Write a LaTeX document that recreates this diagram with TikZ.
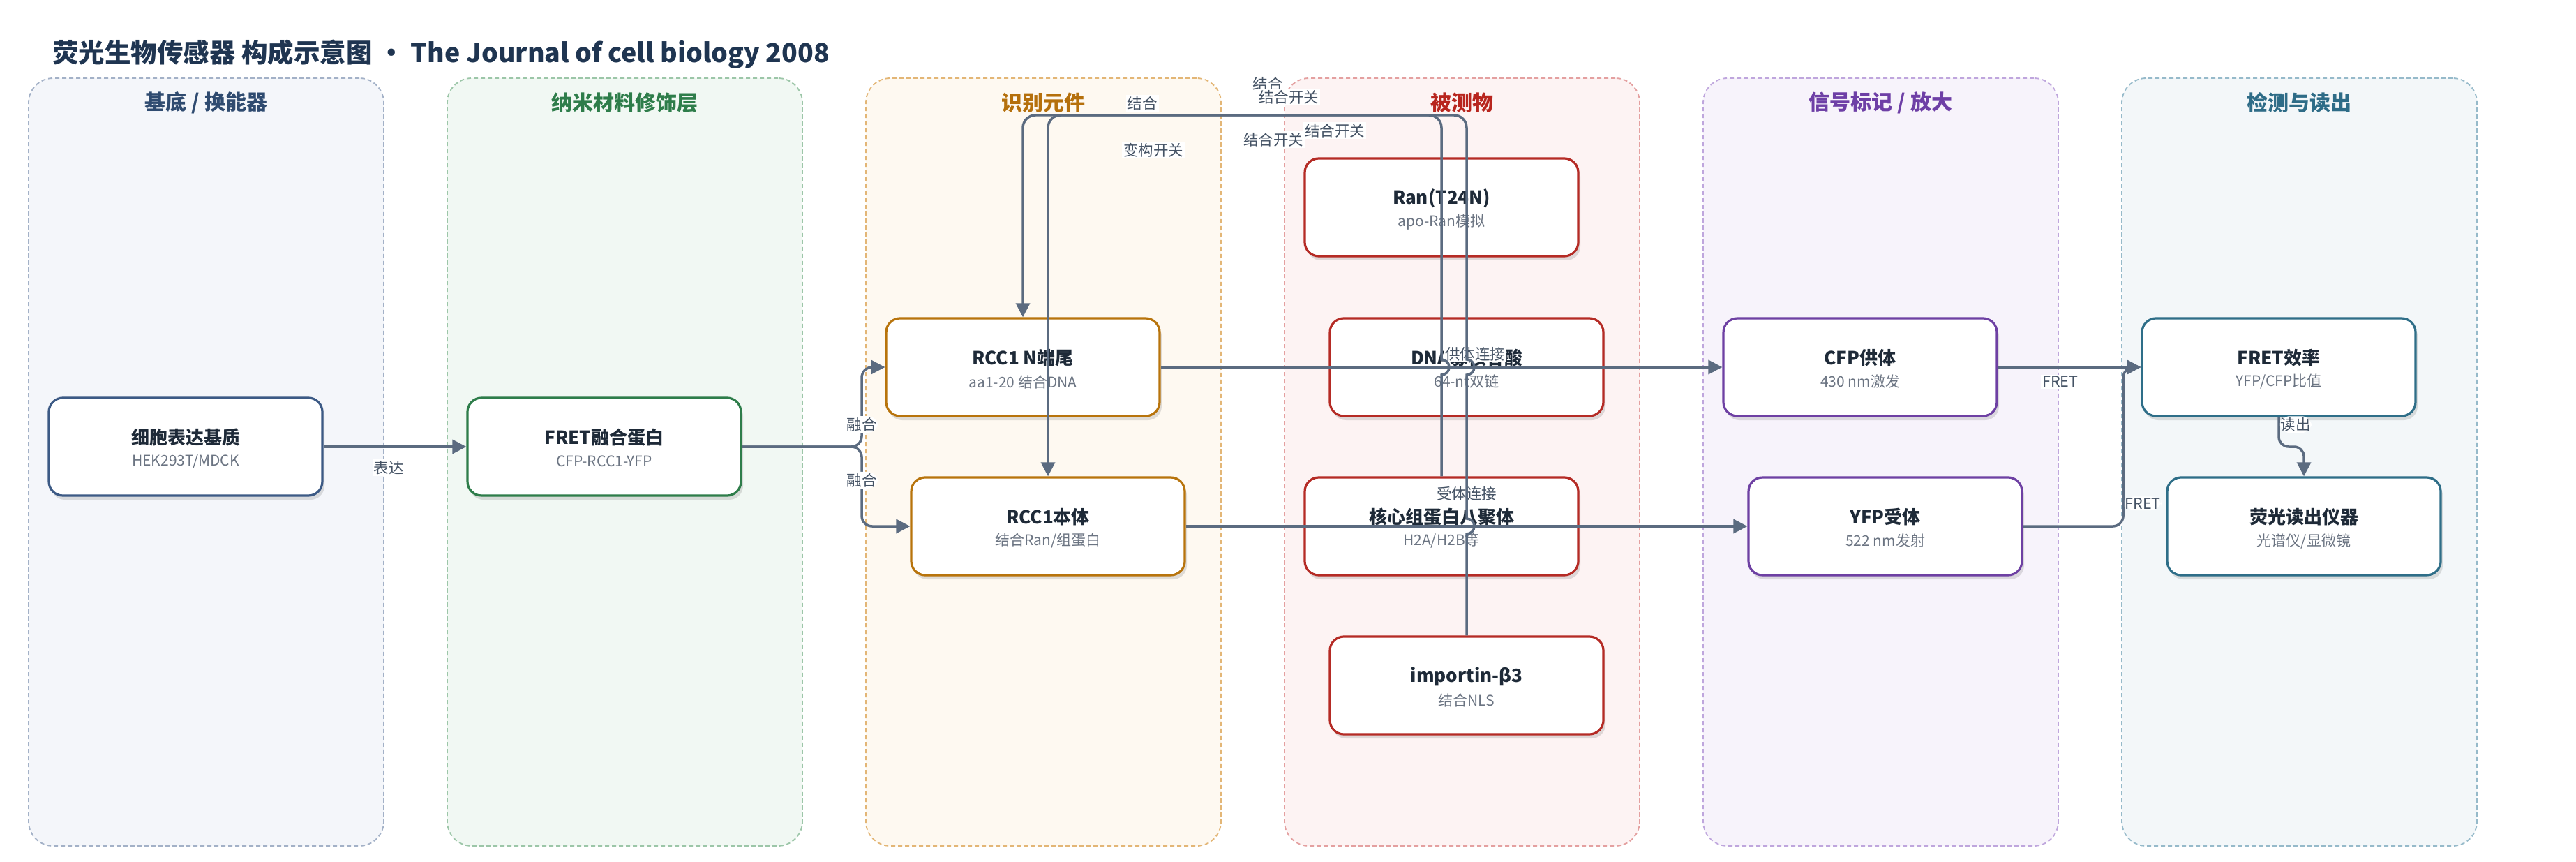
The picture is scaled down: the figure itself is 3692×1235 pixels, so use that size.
\documentclass[tikz,border=0pt]{standalone}
\usepackage{fontspec}
\setmainfont{Noto Sans CJK SC}
\usetikzlibrary{arrows.meta,shadows,calc}

\definecolor{edgec}{HTML}{5B6B80}
\definecolor{titlec}{HTML}{1E2A38}
\definecolor{subc}{HTML}{6B7482}
\definecolor{lblc}{HTML}{455365}
\definecolor{maintc}{HTML}{1F3551}
% lanes: fill, border, title, node border
\definecolor{f1}{HTML}{F4F6FA}\definecolor{b1}{HTML}{A3B1C7}\definecolor{t1}{HTML}{2F4B70}\definecolor{n1}{HTML}{3C5A85}
\definecolor{f2}{HTML}{F1F8F3}\definecolor{b2}{HTML}{9CC6A8}\definecolor{t2}{HTML}{2E7D4A}\definecolor{n2}{HTML}{2E7D4A}
\definecolor{f3}{HTML}{FEF9F1}\definecolor{b3}{HTML}{E3B676}\definecolor{t3}{HTML}{B5700C}\definecolor{n3}{HTML}{B8740C}
\definecolor{f4}{HTML}{FDF3F3}\definecolor{b4}{HTML}{E4A0A0}\definecolor{t4}{HTML}{B8251E}\definecolor{n4}{HTML}{B52B25}
\definecolor{f5}{HTML}{F7F3FB}\definecolor{b5}{HTML}{BFA6DD}\definecolor{t5}{HTML}{6E3FA6}\definecolor{n5}{HTML}{6E40A3}
\definecolor{f6}{HTML}{F3F7F9}\definecolor{b6}{HTML}{96BACA}\definecolor{t6}{HTML}{2E6C87}\definecolor{n6}{HTML}{2E6E88}

\tikzset{
  lane/.style={rectangle, rounded corners=17.5pt, line width=0.9pt, dash pattern=on 3pt off 2pt,
    minimum width=254.5pt, minimum height=550pt, inner sep=0pt},
  lanetitle/.style={font=\fontsize{15}{18}\selectfont\bfseries, inner sep=0pt},
  bbox/.style={rectangle, rounded corners=10pt, line width=1.6pt, fill=white,
    minimum width=196pt, minimum height=70pt, inner sep=0pt,
    drop shadow={shadow xshift=1.5pt, shadow yshift=-3pt, opacity=0.2, fill=black!60}},
  btitle/.style={font=\fontsize{13}{16}\selectfont\bfseries, text=titlec, inner sep=0pt},
  bsub/.style={font=\fontsize{10.5}{13}\selectfont, text=subc, inner sep=0pt},
  lbl/.style={font=\fontsize{10.75}{13}\selectfont, text=lblc, fill=white, inner sep=1pt},
  edge/.style={draw=edgec, line width=1.75pt, -{Triangle[length=10pt,width=10pt]}},
}

\newcommand\BioBox[6]{%
  \node[bbox, draw=#4] (#1) at (#2,#3) {};
  \node[btitle] (#1-t) at ([yshift=6.5pt]#1.center) {#5};
  \node[bsub] (#1-s) at ([yshift=-10.5pt]#1.center) {#6};
}

\begin{document}
\begin{tikzpicture}[x=0.5pt,y=-0.5pt]
\useasboundingbox (0,0) rectangle (3692,1235);
\fill[white] (0,0) rectangle (3692,1235);

% title
\node[anchor=west, font=\fontsize{18.75}{22}\selectfont\bfseries, text=maintc, inner sep=0pt] (title) at (75,78)
  {荧光生物传感器 构成示意图 · The Journal of cell biology 2008};

% lanes
\node[lane, draw=b1, fill=f1] (lane1) at (295.5,662) {};
\node[lane, draw=b2, fill=f2] (lane2) at (895.5,662) {};
\node[lane, draw=b3, fill=f3] (lane3) at (1495.5,662) {};
\node[lane, draw=b4, fill=f4] (lane4) at (2095.5,662) {};
\node[lane, draw=b5, fill=f5] (lane5) at (2695.5,662) {};
\node[lane, draw=b6, fill=f6] (lane6) at (3295.5,662) {};
\node[lanetitle, text=t1] (lane1t) at (295.5,147) {基底 / 换能器};
\node[lanetitle, text=t2] (lane2t) at (895.5,147) {纳米材料修饰层};
\node[lanetitle, text=t3] (lane3t) at (1495.5,147) {识别元件};
\node[lanetitle, text=t4] (lane4t) at (2095.5,147) {被测物};
\node[lanetitle, text=t5] (lane5t) at (2695.5,147) {信号标记 / 放大};
\node[lanetitle, text=t6] (lane6t) at (3295.5,147) {检测与读出};

% boxes
\BioBox{cell}{266}{640}{n1}{细胞表达基质}{HEK293T/MDCK}
\BioBox{fret}{866}{640}{n2}{FRET融合蛋白}{CFP-RCC1-YFP}
\BioBox{rn}{1466}{526}{n3}{RCC1 N端尾}{aa1-20 结合DNA}
\BioBox{rb}{1502}{754}{n3}{RCC1本体}{结合Ran/组蛋白}
\BioBox{ran}{2066}{297}{n4}{Ran(T24N)}{apo-Ran模拟}
\BioBox{dna}{2102}{526}{n4}{DNA寡核苷酸}{64-nt双链}
\BioBox{hist}{2066}{754}{n4}{核心组蛋白八聚体}{H2A/H2B等}
\BioBox{imp}{2102}{982}{n4}{importin-β3}{结合NLS}
\BioBox{cfp}{2666}{526}{n5}{CFP供体}{430 nm激发}
\BioBox{yfp}{2702}{754}{n5}{YFP受体}{522 nm发射}
\BioBox{fe}{3266}{526}{n6}{FRET效率}{YFP/CFP比值}
\BioBox{ro}{3302}{754}{n6}{荧光读出仪器}{光谱仪/显微镜}

% connectors
\draw[edge] (cell.east) -- node[lbl, pos=0.457, yshift=-15pt] (e1) {表达} (fret.west);
\coordinate (fork) at (1235,640);
\draw[edge, rounded corners=7.5pt] (fret.east) -- (fork) |- node[lbl, pos=0.14] (e2) {融合} (rn.west);
\draw[edge, rounded corners=7.5pt] (fret.east) -- (fork) |- node[lbl, pos=0.21] (e3) {融合} (rb.west);
\draw[edge] (rn.east) -- node[lbl, pos=0.56, yshift=9.5pt] (e4) {供体连接} (cfp.west);
\draw[edge] (rb.east) -- node[lbl, pos=0.5, yshift=23.5pt] (e5) {受体连接} (yfp.west);
\draw[edge] (cfp.east) -- node[lbl, pos=0.436, yshift=-10.5pt] (e6) {FRET} (fe.west);
\coordinate (jy) at (3043,754);
\draw[edge, rounded corners=7.5pt] (yfp.east) -- (jy) |- node[lbl, pos=0.072, anchor=west, inner xsep=0.5pt] (e7) {FRET} (fe.west);
\coordinate (jr) at (3266,640);
\draw[edge, rounded corners=7pt] (fe.south) -- node[lbl, pos=0.25, anchor=west, inner xsep=0.5pt] (e8) {读出} (jr) -| (ro.north);

% long routed connectors with line jumps
\coordinate (topY) at (0,165);
\coordinate (hA) at (imp.north |- rb.east);
\coordinate (hB) at (imp.north |- rn.east);
\coordinate (hC) at (hist.north |- rn.east);
\draw[edge] (imp.north) -- ($(hA)+(0,11)$) arc[start angle=-90, end angle=90, radius=5.5pt]
  -- ($(hB)+(0,11)$) arc[start angle=-90, end angle=90, radius=5.5pt]
  -- ($(hB)+(0,-40)$) [rounded corners=9pt] -- (imp.north |- topY) -- (rn.north |- topY) -- (rn.north);
\draw[edge] (hist.north) -- ($(hC)+(0,11)$) arc[start angle=-90, end angle=90, radius=5.5pt]
  -- ($(hC)+(0,-40)$) [rounded corners=9pt] -- (hist.north |- topY) -- (rb.north |- topY) -- (rb.north);

% labels of the routed connectors
\node[lbl] (l1) at (1637,148) {结合};
\node[lbl] (l2) at (1817,120) {结合};
\node[lbl] (l3) at (1847,139) {结合开关};
\node[lbl] (l4) at (1913,187) {结合开关};
\node[lbl] (l5) at (1825,200) {结合开关};
\node[lbl] (l6) at (1653,215) {变构开关};
\end{tikzpicture}
\end{document}
